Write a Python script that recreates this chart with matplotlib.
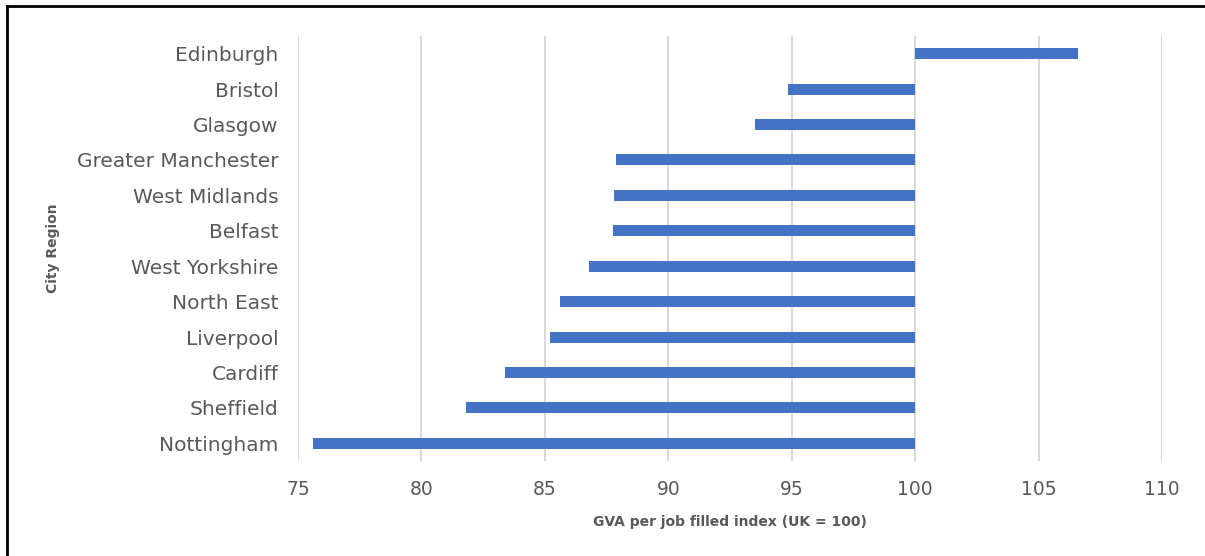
import matplotlib
matplotlib.use("Agg")
import matplotlib.pyplot as plt
from matplotlib.lines import Line2D

plt.rcParams["font.family"] = ["DejaVu Sans"]

regions = ["Edinburgh", "Bristol", "Glasgow", "Greater Manchester", "West Midlands",
           "Belfast", "West Yorkshire", "North East", "Liverpool", "Cardiff",
           "Sheffield", "Nottingham"]
gva_index = [106.6, 94.85, 93.5, 87.9, 87.8, 87.75, 86.8, 85.6, 85.2, 83.4, 81.8, 75.6]
uk_base = 100
x_ticks = [75, 80, 85, 90, 95, 100, 105, 110]

text_col = "#595959"

fig = plt.figure(figsize=(12.05, 5.56), dpi=100)
ax = fig.add_axes([0.2473, 0.1709, 0.9643 - 0.2473, 0.9353 - 0.1709])

# bars run from the UK baseline to each city's index
widths = [v - uk_base for v in gva_index]
ax.barh(range(len(regions)), widths, left=uk_base, height=0.31, color="#4472C4", zorder=3)

ax.set_xlim(75, 110)
ax.set_ylim(len(regions) - 0.5, -0.5)
ax.set_xticks(x_ticks)
ax.set_yticks(range(len(regions)))
ax.set_yticklabels(regions)
ax.grid(axis="x", color="#d9d9d9", linewidth=1.5, zorder=0)
for s in ax.spines.values():
    s.set_visible(False)
ax.tick_params(length=0, colors=text_col)
ax.tick_params(axis="y", pad=14, labelsize=14.5)
ax.tick_params(axis="x", pad=14, labelsize=13.5)

ax.set_xlabel("GVA per job filled index (UK = 100)", fontsize=10, fontweight="bold",
              color=text_col, labelpad=11)
ax.set_ylabel("City Region", fontsize=10, fontweight="bold", color=text_col)
ax.yaxis.set_label_coords(-0.276, 0.5)

# outer frame: only left and top edges fall inside the image
for xs, ys in [([0.0055, 0.0055], [0, 0.989]), ([0.0055, 1], [0.989, 0.989])]:
    fig.lines.append(Line2D(xs, ys, transform=fig.transFigure, color="black", linewidth=2))

fig.savefig("out.png", dpi=100)
